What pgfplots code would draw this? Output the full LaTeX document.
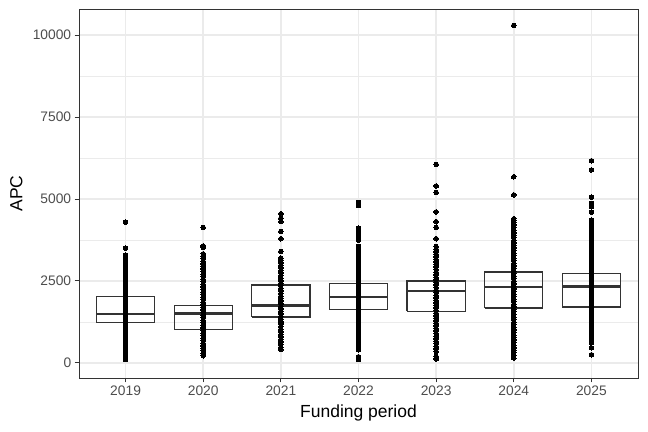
\documentclass[border=0pt]{standalone}
\usepackage{pgfplots}
\pgfplotsset{compat=1.18}
\usepackage{fontspec}
\setmainfont{Liberation Sans}
\definecolor{gray20}{HTML}{333333}
\definecolor{gray30}{HTML}{4D4D4D}
\definecolor{gray92}{HTML}{EBEBEB}
\pgfplotsset{
  boxline/.style={draw=gray20, line width=1.2bp, line join=miter, mark=none, forget plot},
  medline/.style={draw=gray20, line width=2.4bp, mark=none, forget plot},
  dots/.style={only marks, mark=*, mark size=2.3bp, black,
    mark options={draw=black, fill=black, line width=0pt}},
}
\begin{document}
\begin{tikzpicture}
\path[use as bounding box] (-79bp,-54bp) rectangle (569bp,378bp);
\begin{axis}[
  scale only axis,
  width=559bp, height=369bp,
  xmin=0.4, xmax=7.6,
  ymin=-460, ymax=10800,
  xtick={1,2,3,4,5,6,7},
  xticklabels={2019,2020,2021,2022,2023,2024,2025},
  ytick={0,2500,5000,7500,10000},
  minor ytick={1250,3750,6250,8750},
  scaled y ticks=false,
  /pgf/number format/assume math mode=true,
  yticklabel={\pgfmathprintnumber[fixed,precision=0,1000 sep={}]{\tick}},
  xtick pos=bottom, ytick pos=left,
  tick align=outside,
  major tick length=4.3bp, minor tick length=0pt,
  tick style={gray20, line width=1bp},
  axis line style={gray20, line width=0.9bp},
  grid=both,
  major grid style={draw=gray92, line width=1.6bp},
  minor grid style={draw=gray92, line width=0.8bp},
  ticklabel style={font=\fontsize{13.8bp}{16bp}\selectfont, text=gray30},
  xlabel={Funding period}, ylabel={APC},
  label style={font=\fontsize{17.5bp}{20bp}\selectfont},
  xlabel style={at={(axis description cs:0.5,-0.095)}, anchor=center},
  ylabel style={at={(axis description cs:-0.112,0.5)}, anchor=center},
]
% boxes (lower quartile, upper quartile) and medians
\addplot[boxline] coordinates {(0.625,1237) (1.375,1237) (1.375,2020) (0.625,2020) (0.625,1237)};
\addplot[medline] coordinates {(0.625,1492) (1.375,1492)};
\addplot[boxline] coordinates {(1.625,1014) (2.375,1014) (2.375,1755) (1.625,1755) (1.625,1014)};
\addplot[medline] coordinates {(1.625,1511) (2.375,1511)};
\addplot[boxline] coordinates {(2.625,1401) (3.375,1401) (3.375,2376) (2.625,2376) (2.625,1401)};
\addplot[medline] coordinates {(2.625,1755) (3.375,1755)};
\addplot[boxline] coordinates {(3.625,1633) (4.375,1633) (4.375,2425) (3.625,2425) (3.625,1633)};
\addplot[medline] coordinates {(3.625,2010) (4.375,2010)};
\addplot[boxline] coordinates {(4.625,1572) (5.375,1572) (5.375,2498) (4.625,2498) (4.625,1572)};
\addplot[medline] coordinates {(4.625,2202) (5.375,2202)};
\addplot[boxline] coordinates {(5.625,1675) (6.375,1675) (6.375,2772) (5.625,2772) (5.625,1675)};
\addplot[medline] coordinates {(5.625,2315) (6.375,2315)};
\addplot[boxline] coordinates {(6.625,1705) (7.375,1705) (7.375,2730) (6.625,2730) (6.625,1705)};
\addplot[medline] coordinates {(6.625,2334) (7.375,2334)};

% 2019
\addplot[dots] coordinates {
(1,100) (1,170) (1,250) (1,330) (1,400) (1,480) (1,560) (1,640) (1,720) (1,800)
(1,880) (1,950) (1,1030) (1,1110) (1,1190) (1,1270) (1,1350) (1,1420) (1,1500)
(1,1580) (1,1660) (1,1740) (1,1820) (1,1900) (1,1980) (1,2050) (1,2130) (1,2210)
(1,2290) (1,2370) (1,2450) (1,2530) (1,2600) (1,2680) (1,2760) (1,2840) (1,2920)
(1,3000) (1,3080) (1,3150) (1,3220) (1,3290) (1,3500) (1,4295)
};
% 2020
\addplot[dots] coordinates {
(2,220) (2,290) (2,370) (2,450) (2,520) (2,600) (2,680) (2,760) (2,840) (2,910)
(2,990) (2,1070) (2,1150) (2,1230) (2,1300) (2,1380) (2,1460) (2,1540) (2,1620)
(2,1700) (2,1770) (2,1850) (2,1930) (2,2010) (2,2090) (2,2160) (2,2240) (2,2320)
(2,2400) (2,2480) (2,2550) (2,2630) (2,2710) (2,2790) (2,2870) (2,2940) (2,3020)
(2,3100) (2,3180) (2,3260) (2,3330) (2,3520) (2,3570) (2,4130)
};
% 2021
\addplot[dots] coordinates {
(3,405) (3,480) (3,560) (3,640) (3,720) (3,800) (3,870) (3,950) (3,1030) (3,1110)
(3,1190) (3,1260) (3,1340) (3,1420) (3,1500) (3,1580) (3,1650) (3,1730) (3,1810)
(3,1890) (3,1970) (3,2040) (3,2120) (3,2200) (3,2280) (3,2360) (3,2430) (3,2510)
(3,2590) (3,2670) (3,2750) (3,2820) (3,2900) (3,2980) (3,3060) (3,3130) (3,3200)
(3,3400) (3,3790) (3,4010) (3,4310) (3,4420) (3,4550)
};
% 2022
\addplot[dots] coordinates {
(4,100) (4,190) (4,400) (4,470) (4,550) (4,630) (4,710) (4,790) (4,860) (4,940)
(4,1020) (4,1100) (4,1180) (4,1250) (4,1330) (4,1410) (4,1490) (4,1570) (4,1640)
(4,1720) (4,1800) (4,1880) (4,1960) (4,2030) (4,2110) (4,2190) (4,2270) (4,2350)
(4,2420) (4,2500) (4,2580) (4,2660) (4,2740) (4,2810) (4,2890) (4,2970) (4,3050)
(4,3130) (4,3250) (4,3330) (4,3420) (4,3550) (4,3750) (4,3830) (4,3920) (4,4010)
(4,4110) (4,4800) (4,4900)
};
% 2023
\addplot[dots] coordinates {
(5,120) (5,200) (5,350) (5,430) (5,510) (5,590) (5,660) (5,740) (5,820) (5,900)
(5,980) (5,1050) (5,1130) (5,1210) (5,1290) (5,1370) (5,1440) (5,1520) (5,1600)
(5,1680) (5,1760) (5,1830) (5,1910) (5,1990) (5,2070) (5,2150) (5,2220) (5,2300)
(5,2380) (5,2460) (5,2540) (5,2610) (5,2690) (5,2770) (5,2850) (5,2930) (5,3000)
(5,3080) (5,3160) (5,3240) (5,3320) (5,3390) (5,3470) (5,3550) (5,3790) (5,4140)
(5,4310) (5,4610) (5,5200) (5,5400) (5,6060)
};
% 2024
\addplot[dots] coordinates {
(6,150) (6,230) (6,310) (6,390) (6,460) (6,540) (6,620) (6,700) (6,780) (6,850)
(6,930) (6,1010) (6,1090) (6,1170) (6,1240) (6,1320) (6,1400) (6,1480) (6,1560)
(6,1630) (6,1710) (6,1790) (6,1870) (6,1950) (6,2020) (6,2100) (6,2180) (6,2260)
(6,2340) (6,2410) (6,2490) (6,2570) (6,2650) (6,2730) (6,2800) (6,2880) (6,2960)
(6,3040) (6,3120) (6,3190) (6,3270) (6,3350) (6,3430) (6,3510) (6,3580) (6,3660)
(6,3740) (6,3820) (6,3900) (6,3970) (6,4050) (6,4130) (6,4210) (6,4290) (6,4350)
(6,4400) (6,5130) (6,5680) (6,10300)
};
% 2025
\addplot[dots] coordinates {
(7,250) (7,460) (7,610) (7,690) (7,770) (7,850) (7,920) (7,1000) (7,1080) (7,1160)
(7,1240) (7,1310) (7,1390) (7,1470) (7,1550) (7,1630) (7,1700) (7,1780) (7,1860)
(7,1940) (7,2020) (7,2090) (7,2170) (7,2250) (7,2330) (7,2410) (7,2480) (7,2560)
(7,2640) (7,2720) (7,2800) (7,2870) (7,2950) (7,3030) (7,3110) (7,3190) (7,3260)
(7,3340) (7,3420) (7,3500) (7,3580) (7,3650) (7,3730) (7,3810) (7,3890) (7,3970)
(7,4040) (7,4120) (7,4200) (7,4280) (7,4360) (7,4600) (7,4770) (7,4870) (7,5060)
(7,5890) (7,6170)
};
\end{axis}
\end{tikzpicture}
\end{document}
